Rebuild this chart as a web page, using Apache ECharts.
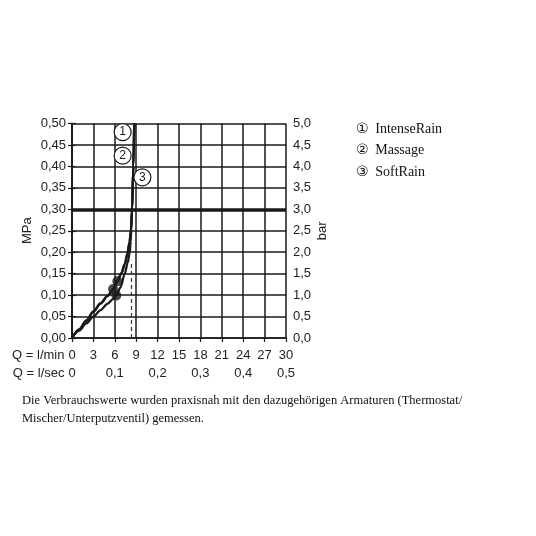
<!DOCTYPE html>
<html>
<head>
<meta charset="utf-8">
<script src="https://cdn.jsdelivr.net/npm/echarts@6/dist/echarts.min.js"></script>
<style>html,body{margin:0;padding:0;background:#fff;}#c{width:536px;height:536px;}</style>
</head>
<body>
<div id="c"></div>
<script>
// Flow (l/min) vs pressure (MPa) curves
var seriesNames = ['IntenseRain', 'Massage', 'SoftRain'];
var circledNums = ['\u2460', '\u2461', '\u2462'];
var qIntense = [0, 1, 2, 3, 4, 5, 5.8, 6.36, 6.92, 7.42, 7.77, 8.06, 8.26, 8.42, 8.6, 8.72];
var pIntense = [0, 0.0195, 0.040, 0.061, 0.080, 0.098, 0.1135, 0.132, 0.15, 0.173, 0.196, 0.222, 0.25, 0.3, 0.4, 0.5];
var qMassage = [0, 1, 2, 3, 4, 5, 5.76, 6.36, 6.9, 7.4, 7.75, 8.05, 8.25, 8.42, 8.6, 8.72];
var pMassage = [0, 0.02, 0.041, 0.062, 0.081, 0.099, 0.114, 0.133, 0.151, 0.173, 0.196, 0.223, 0.25, 0.3, 0.4, 0.5];
var qSoft = [0, 1, 2, 3, 4, 5, 5.7, 6.22, 6.8, 7.4, 7.8, 8.1, 8.22, 8.3, 8.43, 8.6, 8.72];
var pSoft = [0, 0.017, 0.034, 0.05, 0.065, 0.08, 0.09, 0.099, 0.118, 0.15, 0.175, 0.2, 0.225, 0.25, 0.3, 0.4, 0.5];
var dotQ = [6.36, 5.76, 6.22];
var dotP = [0.132, 0.114, 0.099];
var labelQ = [7.1, 7.1, 9.87];
var labelP = [0.48, 0.425, 0.3745];
var labelText = ['1', '2', '3'];
var refPressure = 0.30;
var dashQ = 8.3, dashTopP = 0.18;
var xTicksMin = {min: 0, max: 30, interval: 3};
var xTicksSec = {min: 0, max: 0.5, interval: 0.1};
var yTicksMPa = {min: 0, max: 0.5, interval: 0.05};
var yTicksBar = {min: 0, max: 5, interval: 0.5};
var note = 'Die Verbrauchswerte wurden praxisnah mit den dazugehörigen Armaturen (Thermostat/\nMischer/Unterputzventil) gemessen.';

function zip(a, b) { return a.map(function (v, i) { return [v, b[i]]; }); }
function comma(d) { return function (v) { return v.toFixed(d).replace('.', ','); }; }

var ink = '#1a1a1a';
var sans = 'Liberation Sans';
var gridLine = {show: true, lineStyle: {color: ink, width: 1.5}};
var axisLineS = {show: true, lineStyle: {color: ink, width: 1.5}};
var tickS = {show: true, length: 4, lineStyle: {color: ink, width: 1.2}};
var lblS = {fontFamily: sans, fontSize: 13, color: '#222'};

var lineSeries = [[qIntense, pIntense], [qMassage, pMassage], [qSoft, pSoft]].map(function (d, i) {
  var s = {
    name: seriesNames[i], type: 'line', data: zip(d[0], d[1]),
    smooth: 0.3, smoothMonotone: 'x', symbol: 'none', showSymbol: false,
    lineStyle: {color: ink, width: 2.3}, itemStyle: {color: ink}, z: 3
  };
  if (i === 0) {
    s.markLine = {
      silent: true, symbol: 'none', label: {show: false},
      data: [
        {yAxis: refPressure, lineStyle: {color: ink, width: 3.5, type: 'solid'}},
        [{coord: [dashQ, 0], lineStyle: {color: '#333', width: 1.2, type: [4, 3]}}, {coord: [dashQ, dashTopP]}]
      ]
    };
    s.markPoint = {
      silent: true, symbol: 'circle', symbolSize: 17,
      itemStyle: {color: '#fff', borderColor: ink, borderWidth: 1.2},
      label: {show: true, position: 'inside', color: ink, fontFamily: sans, fontSize: 12},
      data: labelQ.map(function (q, k) { return {coord: [q, labelP[k]], value: labelText[k], label: {formatter: labelText[k]}}; })
    };
  }
  return s;
});

var option = {
  animation: false,
  backgroundColor: '#fff',
  title: {
    text: note, left: 17, top: 387,
    textStyle: {fontFamily: 'Liberation Serif', fontSize: 12.5, fontWeight: 'normal', color: '#111', lineHeight: 18}
  },
  legend: {
    orient: 'vertical', left: 346, top: 117, itemGap: 7.7, icon: 'none', itemWidth: 0, itemHeight: 0,
    selectedMode: false, data: seriesNames,
    formatter: function (n) { return '{c|' + circledNums[seriesNames.indexOf(n)] + '}  {t|' + n + '}'; },
    textStyle: {
      color: '#111', padding: 0,
      rich: {
        c: {fontFamily: 'DejaVu Sans', fontSize: 14, color: '#111'},
        t: {fontFamily: 'Liberation Serif', fontSize: 14, color: '#111'}
      }
    }
  },
  grid: {left: 72, right: 250, top: 123.5, bottom: 198},
  xAxis: [
    {
      type: 'value', position: 'bottom', min: xTicksMin.min, max: xTicksMin.max, interval: xTicksMin.interval,
      axisLine: axisLineS, axisTick: tickS, splitLine: gridLine,
      axisLabel: Object.assign({margin: 11}, lblS),
      name: 'Q = l/min', nameLocation: 'start', nameGap: 6,
      nameTextStyle: Object.assign({verticalAlign: 'top', padding: [11, 0, 0, 0]}, lblS)
    },
    {
      type: 'value', position: 'bottom', offset: 18, min: xTicksSec.min, max: xTicksSec.max, interval: xTicksSec.interval,
      axisLine: {show: false}, axisTick: {show: false}, splitLine: {show: false},
      axisLabel: Object.assign({margin: 11, formatter: function (v) { return v === 0 ? '0' : comma(1)(v); }}, lblS),
      name: 'Q = l/sec', nameLocation: 'start', nameGap: 6,
      nameTextStyle: Object.assign({verticalAlign: 'top', padding: [29, 0, 0, 0]}, lblS)
    }
  ],
  yAxis: [
    {
      type: 'value', position: 'left', min: yTicksMPa.min, max: yTicksMPa.max, interval: yTicksMPa.interval,
      axisLine: axisLineS, axisTick: tickS, splitLine: gridLine,
      axisLabel: Object.assign({margin: 6, formatter: comma(2)}, lblS),
      name: 'MPa', nameLocation: 'middle', nameGap: 38, nameRotate: 90, nameTextStyle: lblS
    },
    {
      type: 'value', position: 'right', min: yTicksBar.min, max: yTicksBar.max, interval: yTicksBar.interval,
      axisLine: axisLineS, axisTick: tickS, splitLine: {show: false},
      axisLabel: Object.assign({margin: 7, formatter: comma(1)}, lblS),
      name: 'bar', nameLocation: 'middle', nameGap: 30, nameRotate: 90, nameTextStyle: lblS
    }
  ],
  series: lineSeries.concat([{
    name: 'points', type: 'scatter', data: zip(dotQ, dotP), symbol: 'circle', symbolSize: 10,
    itemStyle: {color: ink}, z: 4, silent: true
  }])
};
var chart = echarts.init(document.getElementById('c'), null, {renderer: 'canvas'});
chart.setOption(option);
</script>
</body>
</html>
